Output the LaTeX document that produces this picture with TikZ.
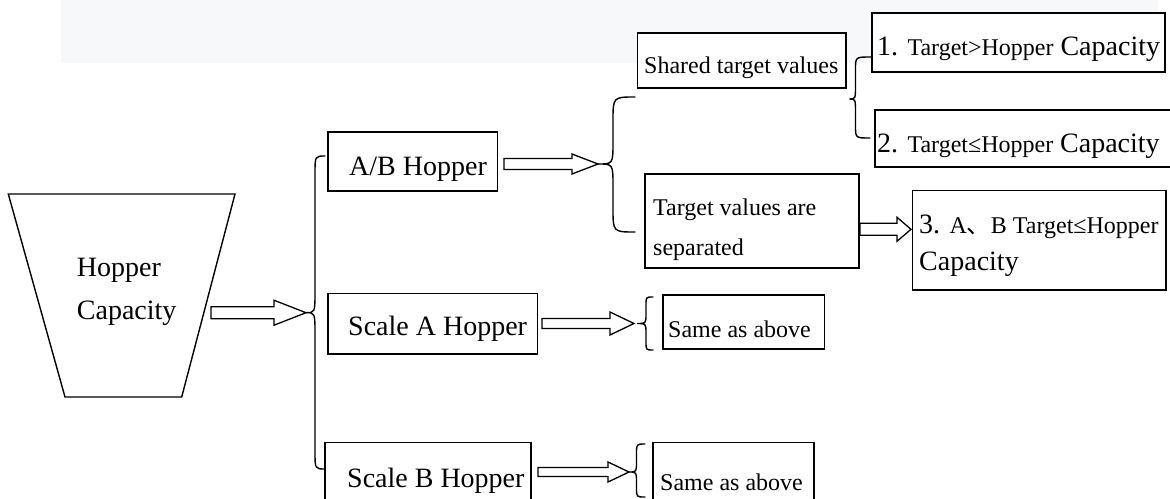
\documentclass[tikz,border=0pt]{standalone}
\usepackage{fontspec}
\setmainfont{Liberation Serif}
\newfontfamily\cjk{Noto Sans CJK SC}
\usetikzlibrary{calc}

\newcommand\bigtxt{\fontsize{28}{40}\selectfont}
\newcommand\smalltxt{\fontsize{24}{40}\selectfont}

% hollow block arrow: start coord, tip coord, head length, shaft half-height, head half-height
\newcommand\hollowarrow[5]{%
  \draw[arrowline] let \p1=(#1), \p2=(#2) in
    (\x1,{\y2+#4pt}) -- ({\x2-#3pt},{\y2+#4pt}) -- ({\x2-#3pt},{\y2+#5pt}) -- (\p2)
    -- ({\x2-#3pt},{\y2-#5pt}) -- ({\x2-#3pt},{\y2-#4pt}) -- (\x1,{\y2-#4pt}) -- cycle;}

% left curly brace: top end, tip, bottom end, stem offset from tip, end radius, middle radius
\newcommand\curlybrace[6]{%
  \draw[braceline] let \p1=(#1), \p2=(#2), \p3=(#3) in
    (\p1) .. controls ({\x2+#4pt},\y1) .. ({\x2+#4pt},{\y1-#5pt})
    -- ({\x2+#4pt},{\y2+#6pt}) .. controls ({\x2+#4pt},\y2) .. (\p2)
    .. controls ({\x2+#4pt},\y2) .. ({\x2+#4pt},{\y2-#6pt})
    -- ({\x2+#4pt},{\y3+#5pt}) .. controls ({\x2+#4pt},\y3) .. (\p3);}

\definecolor{bandgray}{RGB}{247,248,250}

\begin{document}
\begin{tikzpicture}[x=1pt,y=-1pt,
  box/.style={draw=black, fill=white, line width=1.6pt, inner sep=0pt},
  arrowline/.style={draw=black, fill=white, line width=1.3pt, line join=miter},
  braceline/.style={draw=black, line width=1.4pt, line cap=round},
  big/.style={inner sep=0pt, anchor=base west, font=\bigtxt},
  small/.style={inner sep=0pt, anchor=base west, font=\smalltxt}]

\useasboundingbox (0,0) rectangle (1170,498);
\fill[bandgray] (60.5,0) rectangle (1158,63);

% hopper
\draw[line width=1.4pt, line join=miter] (8.3,194) -- (235,194) -- (181.7,397) -- (65,397) -- cycle;
\node[big] (hop1) at (76.7,276.7) {Hopper};
\node[big] (hop2) at (76.7,319) {Capacity};

% boxes
\node[box, minimum width=169.5pt, minimum height=59pt] (ab) at (412.75,161.5) {};
\node[box, minimum width=209.5pt, minimum height=60.5pt] (sa) at (432.75,323.75) {};
\node[box, minimum width=206pt, minimum height=64pt] (sb) at (428,474.5) {};
\node[box, minimum width=208.5pt, minimum height=55pt] (shared) at (741.75,60.5) {};
\node[box, minimum width=214pt, minimum height=94pt] (sep) at (752,221) {};
\node[box, minimum width=293pt, minimum height=59pt] (c1) at (1018.5,42.5) {};
\node[box, minimum width=297pt, minimum height=57pt] (c2) at (1023.5,138.5) {};
\node[box, minimum width=253.5pt, minimum height=99.5pt] (c3) at (1039.25,240.25) {};
\node[box, minimum width=161.5pt, minimum height=54pt] (same1) at (743.75,322) {};
\node[box, minimum width=161.5pt, minimum height=64pt] (same2) at (733.5,474.5) {};

% texts
\node[big] (tab) at (349,175) {A/B Hopper};
\node[big] (tsa) at (348,335) {Scale A Hopper};
\node[big] (tsb) at (347,487) {Scale B Hopper};
\node[small] (tshared) at (644,73) {Shared target values};
\node[small] (tsep1) at (653,215) {Target values are};
\node[small] (tsep2) at (653,255) {separated};
\node[inner sep=0pt, anchor=base west] (tc1) at (877,55) {\bigtxt 1. {\smalltxt Target>Hopper} Capacity};
\node[inner sep=0pt, anchor=base west] (tc2) at (877,152) {\bigtxt 2. {\smalltxt Target≤Hopper} Capacity};
\node[inner sep=0pt, anchor=base west] (tc3a) at (919,233) {\bigtxt 3. {\smalltxt A{\cjk 、}B Target≤Hopper}};
\node[big] (tc3b) at (919,270) {Capacity};
\node[small] (tsame1) at (668,337) {Same as above};
\node[small] (tsame2) at (660,490) {Same as above};

% connector end points
\coordinate (hopOut) at (211,312.7);
\coordinate (mainTip) at (306,312.7);
\coordinate (abOut) at (504,164.5);
\coordinate (abTip) at (598,164);
\coordinate (sepOut) at (860,229.3);
\coordinate (sepTip) at (911,229.3);
\coordinate (saOut) at (542,323.5);
\coordinate (saTip) at (634,323.5);
\coordinate (sbOut) at (538,472);
\coordinate (sbTip) at (629,472);

% braces
\curlybrace{325,156}{mainTip}{325,469}{9}{18}{22}
\curlybrace{635,97}{abTip}{635,232}{15}{24}{22}
\curlybrace{870.7,57}{849.5,99}{870,138}{6}{12}{14}
\curlybrace{653,297}{637,323.5}{653,350}{9}{8}{10}
\curlybrace{645,444}{sbTip}{645,497}{7.5}{9}{10}

% arrows
\hollowarrow{hopOut}{mainTip}{32}{6}{12.5}
\hollowarrow{abOut}{abTip}{26}{5.5}{10}
\hollowarrow{sepOut}{sepTip}{14}{6}{12}
\hollowarrow{saOut}{saTip}{24}{5}{11.5}
\hollowarrow{sbOut}{sbTip}{21}{4.5}{10}
\end{tikzpicture}
\end{document}
